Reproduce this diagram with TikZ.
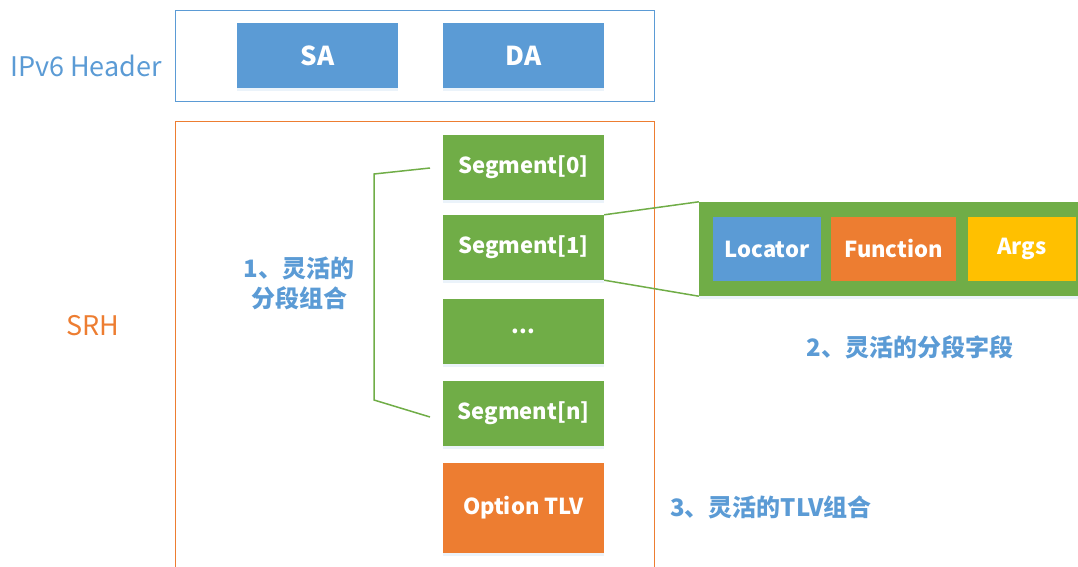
\documentclass[tikz,border=0pt]{standalone}
\usepackage{fontspec}
\setmainfont{Noto Sans CJK SC}
\usetikzlibrary{shadows}
\definecolor{cblue}{HTML}{5B9BD5}
\definecolor{cgreen}{HTML}{70AD47}
\definecolor{corange}{HTML}{ED7D31}
\definecolor{cyellow}{HTML}{FFC000}
\tikzset{
  shad/.style={drop shadow={shadow xshift=0pt,shadow yshift=-3pt,opacity=0.12,fill=cblue}},
  field/.style={minimum width=161pt,minimum height=65pt,inner sep=0pt,text=white,
    font=\fontsize{22}{26}\selectfont\bfseries,shad},
  seg/.style={field,fill=cgreen},
  sub/.style={minimum height=64pt,inner sep=0pt,text=white,font=\fontsize{22}{26}\selectfont\bfseries},
  outer/.style={inner sep=0pt,line width=1pt},
  lab/.style={text=cblue,font=\fontsize{24}{30}\selectfont\bfseries,inner sep=0pt,align=center},
  link/.style={draw=cgreen,line width=1.5pt},
}
\begin{document}
\begin{tikzpicture}[x=1pt,y=-1pt]
\useasboundingbox (0,0) rectangle (1078,567);
\clip (0,0) rectangle (1078,567);
% IPv6 header
\node[outer,draw=cblue,minimum width=479pt,minimum height=91.5pt] (hdr) at (414.5,56.25) {};
\node[field,fill=cblue,font=\fontsize{26}{30}\selectfont\bfseries] (sa) at (317.5,55.5) {SA};
\node[field,fill=cblue,font=\fontsize{26}{30}\selectfont\bfseries] (da) at (523.5,55.5) {DA};
\node[text=cblue,font=\fontsize{27}{30}\selectfont,inner sep=0pt] (hlab) at (86,66) {IPv6 Header};
% SRH
\node[outer,draw=corange,minimum width=479pt,minimum height=480pt] (srh) at (414.5,362) {};
\node[text=corange,font=\fontsize{27}{30}\selectfont,inner sep=0pt] (srhlab) at (93,326) {SRH};
\node[seg] (s0) at (523.5,167) {Segment[0]};
\node[seg,minimum height=65pt] (s1) at (523.5,247.5) {Segment[1]};
\node[seg] (sd) at (523.5,331) {...};
\node[seg] (sn) at (523.5,413) {Segment[n]};
\node[field,fill=corange,minimum height=90pt] (tlv) at (523.5,508) {Option TLV};
% segment fields
\node[fill=cgreen,minimum width=391pt,minimum height=94pt,inner sep=0pt,shad] (bar) at (894.5,249) {};
\node[sub,fill=cblue,minimum width=108pt] (loc) at (767,249) {Locator};
\node[sub,fill=corange,minimum width=125pt] (fun) at (893.5,249) {Function};
\node[sub,fill=cyellow,minimum width=108pt] (args) at (1022,249) {Args};
\draw[link] (s1.north east) -- (bar.north west);
\draw[link] (s1.south east) -- (bar.south west);
% bracket
\coordinate (b1) at (430,168);
\coordinate (b2) at (374,174);
\coordinate (b3) at (374,400);
\coordinate (b4) at (430,417);
\draw[link] (b1) -- (b2) -- (b3) -- (b4);
% labels
\node[lab] (l1) at (299,283) {1、灵活的\\分段组合};
\node[lab] (l2) at (910,347) {2、灵活的分段字段};
\node[lab,anchor=west] (l3) at (670,507) {3、灵活的TLV组合};
\end{tikzpicture}
\end{document}
